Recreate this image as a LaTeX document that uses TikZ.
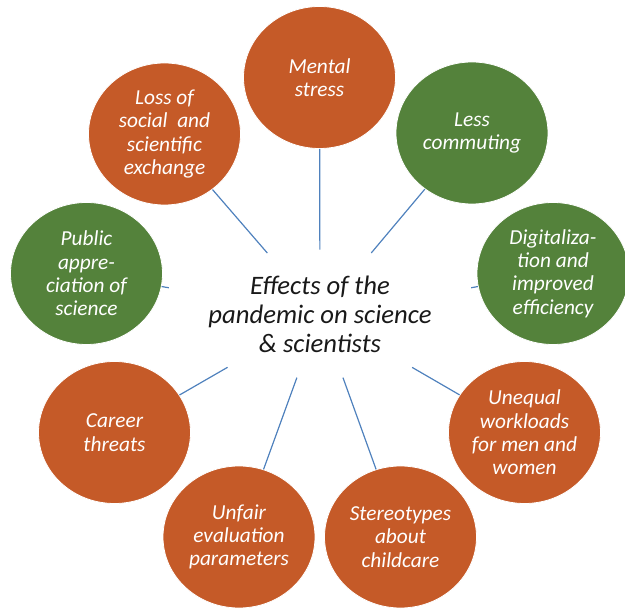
\documentclass[tikz,border=0pt]{standalone}
\usepackage{fontspec}
\setmainfont{Carlito}
\usetikzlibrary{shapes.geometric}
\definecolor{effectOrange}{RGB}{197,90,40}
\definecolor{effectGreen}{RGB}{84,130,59}
\definecolor{spokeBlue}{RGB}{79,129,189}
\begin{document}
\begin{tikzpicture}
            [x=0.75pt, y=-0.75pt,
            effect/.style={ellipse,
                        draw=white,
                        line width=0.6pt,
                        text=white,
                        align=center,
                        inner sep=0pt,
                        minimum width=114pt,
                        minimum height=106.5pt,
                        font=\fontsize{16}{17.5}\selectfont\itshape},
            hub/.style={ellipse,
                        align=center,
                        inner sep=0pt,
                        minimum width=248pt,
                        minimum height=96pt,
                        text=black!90,
                        font=\fontsize{20}{21.75}\selectfont\itshape},
            spoke/.style={spokeBlue, line width=0.9pt}]

            \useasboundingbox (0,0) rectangle (625,609);

            \node[hub] (pandemicEffects) at (320,314) {Effects of the\\pandemic on science\\\& scientists};

            \node[effect, fill=effectOrange] (mentalStress) at (319.5,77.5) {Mental\\stress};
            \node[effect, fill=effectGreen] (lessCommuting) at (472,133) {Less\\commuting};
            \node[effect, fill=effectGreen] (digitalization) at (553,273.5) {Digitaliza-\\tion and\\improved\\efficiency};
            \node[effect, fill=effectOrange] (unequalWorkloads) at (524.5,432.5) {Unequal\\workloads\\for men and\\women};
            \node[effect, fill=effectOrange] (stereotypes) at (400.5,537) {Stereotypes\\about\\childcare};
            \node[effect, fill=effectOrange] (unfairEvaluation) at (239,537) {Unfair\\evaluation\\parameters};
            \node[effect, fill=effectOrange] (careerThreats) at (114.5,432.5) {Career\\threats};
            \node[effect, fill=effectGreen] (publicAppreciation) at (86.5,273.5) {Public\\appre-\\ciation of\\science};
            \node[effect, fill=effectOrange] (lossOfExchange) at (164.5,134) {Loss of\\social~ and\\scientific\\exchange};

            \foreach \target in {mentalStress, lessCommuting, digitalization, unequalWorkloads,
                                 stereotypes, unfairEvaluation, careerThreats, publicAppreciation, lossOfExchange}
                \draw [spoke] (pandemicEffects) -- (\target);
        \end{tikzpicture}
\end{document}
